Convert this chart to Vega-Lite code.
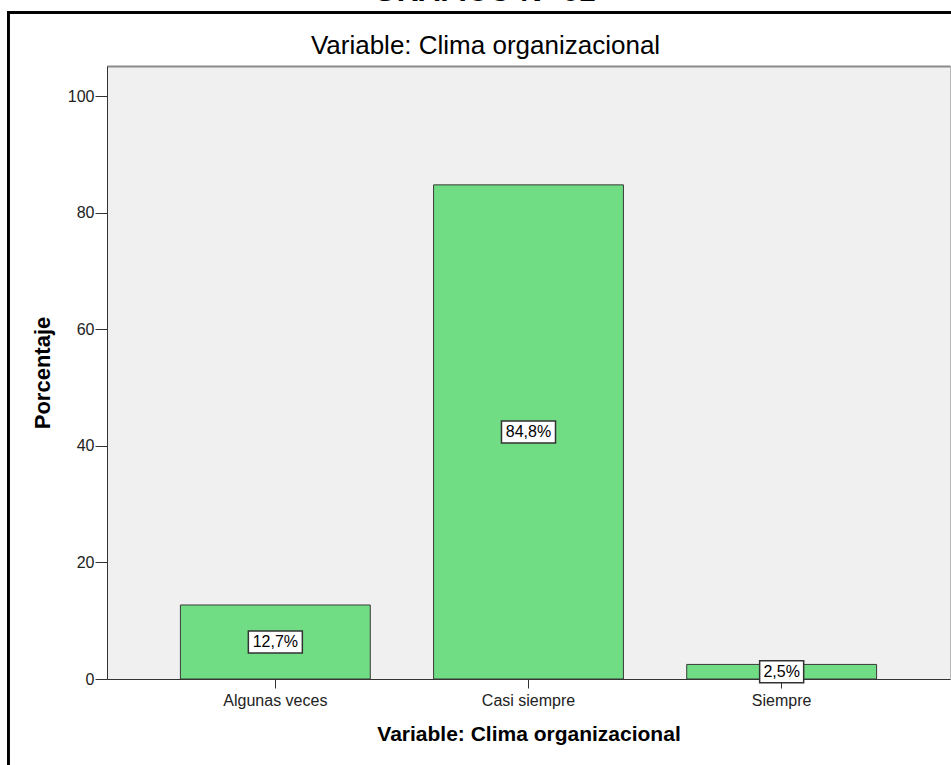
{
  "$schema": "https://vega.github.io/schema/vega-lite/v6.json",
  "width": 843,
  "height": 613,
  "autosize": {"type": "none"},
  "padding": {"left": 107, "top": 66, "right": 1, "bottom": 86},
  "background": "white",
  "title": {
    "text": "GRÁFICO N° 01",
    "font": "Liberation Sans",
    "fontSize": 30,
    "fontWeight": "bold",
    "color": "black",
    "anchor": "middle",
    "frame": "group",
    "dx": -44,
    "offset": -20,
    "baseline": "alphabetic"
  },
  "data": {
    "values": [
      {"categoria": "Algunas veces", "pct": 12.7, "etiqueta": "12,7%"},
      {"categoria": "Casi siempre", "pct": 84.8, "etiqueta": "84,8%"},
      {"categoria": "Siempre", "pct": 2.5, "etiqueta": "2,5%"}
    ]
  },
  "transform": [{"calculate": "datum.pct / 2", "as": "mitad"}],
  "config": {
    "font": "Liberation Sans",
    "view": {"fill": "#f0f0f0", "stroke": "#b8b8b8", "strokeWidth": 1}
  },
  "layer": [
    {
      "mark": {"type": "rect", "filled": false, "stroke": "black", "strokeWidth": 2.5},
      "encoding": {
        "x": {"datum": -0.117, "type": "quantitative", "scale": {"domain": [0, 1], "nice": false, "zero": false}, "axis": null},
        "x2": {"datum": 1.3},
        "y": {"datum": 1.0873, "type": "quantitative", "scale": {"domain": [0, 1], "nice": false, "zero": false}, "axis": null},
        "y2": {"datum": -0.3}
      }
    },
    {
      "mark": {"type": "bar", "fill": "#70dd84", "stroke": "#3a3a3a", "strokeWidth": 1},
      "encoding": {
        "x": {
          "field": "categoria", "type": "nominal", "sort": null,
          "scale": {"type": "band", "paddingInner": 0.25, "paddingOuter": 0.29},
          "axis": {
            "orient": "bottom",
            "title": "Variable: Clima organizacional",
            "labelAngle": 0,
            "labelFontSize": 16,
            "labelColor": "#222222",
            "tickSize": 9,
            "tickColor": "#333333",
            "domainColor": "#333333",
            "labelPadding": 4,
            "titleFontSize": 21,
            "titleFontWeight": "bold",
            "titleColor": "black",
            "titlePadding": 15
          }
        },
        "y": {
          "field": "pct", "type": "quantitative",
          "scale": {"domain": [0, 105.2], "nice": false, "zero": true},
          "axis": {
            "title": "Porcentaje",
            "values": [0, 20, 40, 60, 80, 100],
            "grid": false,
            "tickSize": 12,
            "tickColor": "#333333",
            "domainColor": "#333333",
            "labelFontSize": 16,
            "labelColor": "#222222",
            "labelPadding": 1,
            "titleFontSize": 22,
            "titleFontWeight": "bold",
            "titleColor": "black",
            "titlePadding": 13
          }
        }
      }
    },
    {
      "mark": {"type": "point", "filled": true, "fill": "white", "stroke": "#333333", "strokeWidth": 1.5, "opacity": 1, "size": 729},
      "encoding": {
        "x": {
          "field": "categoria", "type": "nominal", "sort": null,
          "scale": {"type": "band", "paddingInner": 0.25, "paddingOuter": 0.29},
          "axis": {
            "orient": "top",
            "title": "Variable: Clima organizacional",
            "labels": false,
            "ticks": false,
            "domain": true,
            "domainColor": "#8a8a8a",
            "domainWidth": 2,
            "titleFontSize": 26,
            "titleFontWeight": "normal",
            "titleColor": "black",
            "titlePadding": 8,
            "titleX": 378,
            "titleAlign": "center"
          }
        },
        "y": {"field": "mitad", "type": "quantitative", "scale": {"domain": [0, 105.2], "nice": false, "zero": true}, "axis": null},
        "shape": {
          "condition": {"test": "datum.pct < 10", "value": "M-1.63,-0.815L1.63,-0.815L1.63,0.815L-1.63,0.815Z"},
          "value": "M-2,-0.815L2,-0.815L2,0.815L-2,0.815Z"
        }
      }
    },
    {
      "mark": {"type": "text", "fontSize": 16, "color": "black", "baseline": "middle", "align": "center"},
      "encoding": {
        "x": {
          "field": "categoria", "type": "nominal", "sort": null,
          "scale": {"type": "band", "paddingInner": 0.25, "paddingOuter": 0.29},
          "axis": null
        },
        "y": {"field": "mitad", "type": "quantitative", "scale": {"domain": [0, 105.2], "nice": false, "zero": true}, "axis": null},
        "text": {"field": "etiqueta"}
      }
    }
  ],
  "resolve": {"scale": {"x": "independent", "y": "independent"}}
}
